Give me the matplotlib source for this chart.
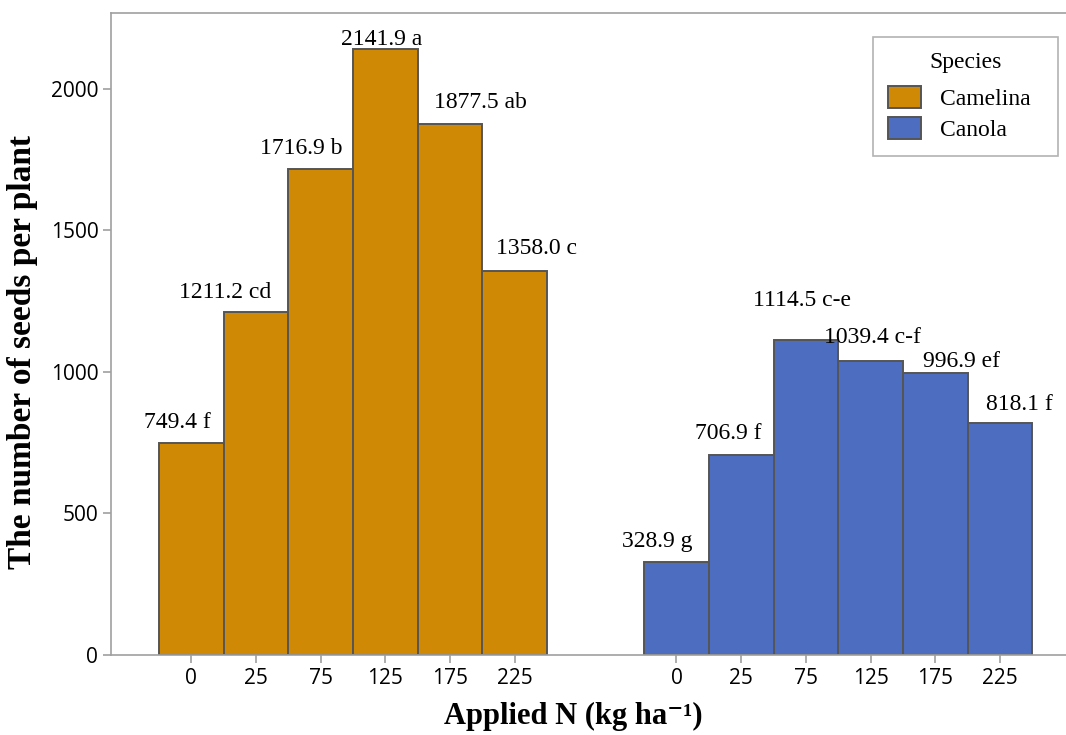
import matplotlib.pyplot as plt
import numpy as np

# data
n_rates = ['0', '25', '75', '125', '175', '225']
camelina = [749.4, 1211.2, 1716.9, 2141.9, 1877.5, 1358.0]
canola = [328.9, 706.9, 1114.5, 1039.4, 996.9, 818.1]
camelina_lbl = ['749.4 f', '1211.2 cd', '1716.9 b', '2141.9 a', '1877.5 ab', '1358.0 c']
canola_lbl = ['328.9 g', '706.9 f', '1114.5 c-e', '1039.4 c-f', '996.9 ef', '818.1 f']

# label nudges (points) to mimic the hand placed labels
cam_off = [(-10, 11), (-22, 10), (-14, 11), (-2.5, 3), (22, 11.5), (16, 12)]
can_off = [(-14, 11), (-9, 11.5), (-3, 24.5), (1, 13), (19, 4), (14, 10)]

col_cam = '#CF8905'
col_can = '#4C6DC0'
edge = '#555555'
spine = '#A0A0A0'
serif = ['Liberation Serif', 'DejaVu Serif']

fig = plt.figure(figsize=(10.66, 7.35), dpi=100)
ax = fig.add_axes([0.104, 0.1088, 0.896, 0.8735])

x_cam = np.arange(len(camelina))
x_can = np.arange(len(canola)) + 7.5

ax.bar(x_cam, camelina, width=1.0, color=col_cam, edgecolor=edge, linewidth=1.4, label='Camelina')
ax.bar(x_can, canola, width=1.0, color=col_can, edgecolor=edge, linewidth=1.4, label='Canola')

for xs, ys, lbls, offs in [(x_cam, camelina, camelina_lbl, cam_off), (x_can, canola, canola_lbl, can_off)]:
    for xi, yi, t, (dx, dy) in zip(xs, ys, lbls, offs):
        ax.annotate(t, (xi, yi), xytext=(dx, dy), textcoords='offset points',
                    ha='center', va='baseline', fontsize=17, family=serif)

ax.set_xlim(-1.242, 13.52)
ax.set_ylim(0, 2268)
ax.set_xticks(np.concatenate([x_cam, x_can]))
ax.set_xticklabels(n_rates + n_rates)
ax.set_yticks([0, 500, 1000, 1500, 2000])

ax.spines['right'].set_visible(False)
for s in ['left', 'bottom', 'top']:
    ax.spines[s].set_color(spine)
    ax.spines[s].set_linewidth(1.2)
ax.tick_params(axis='both', colors=spine, labelcolor='black', labelsize=15,
               length=6, width=1.2, pad=3)
for t in ax.get_xticklabels() + ax.get_yticklabels():
    t.set_family('Open Sans')

ax.set_ylabel('The number of seeds per plant', fontsize=24, fontweight='bold', family=serif)
ax.yaxis.set_label_coords(-0.076, 0.472)
ax.set_xlabel('Applied N (kg ha\u207b\u00b9)', fontsize=22, fontweight='bold', family=serif)
ax.xaxis.label.set_va('baseline')
ax.xaxis.set_label_coords(0.4838, -0.1075)

leg = ax.legend(title='Species', loc='upper left', bbox_to_anchor=(0.798, 0.7626, 0.1937, 0.2),
                mode='expand', borderaxespad=0,
                prop={'family': serif, 'size': 17}, title_fontproperties={'family': serif, 'size': 17},
                fancybox=False, edgecolor=spine, handlelength=1.4, handleheight=1.05,
                handletextpad=0.8, borderpad=0.65, labelspacing=0.3)
leg._legend_box.sep += 4  # a bit more room under the title
leg.get_frame().set_linewidth(1.2)
for p in leg.get_patches():
    p.set_edgecolor(edge)
    p.set_linewidth(1.4)

plt.savefig('out.png', dpi=100)
